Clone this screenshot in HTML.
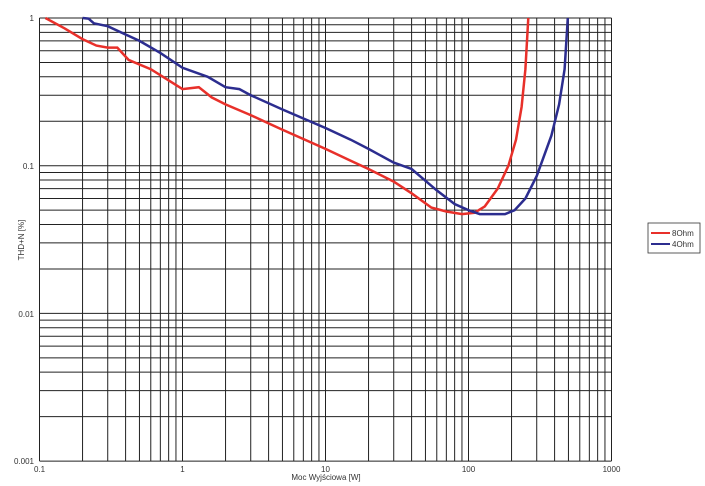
<!DOCTYPE html>
<html><head><meta charset="utf-8"><style>
html,body{margin:0;padding:0;background:#fff;width:705px;height:486px;overflow:hidden}
svg{display:block}
text{font-family:"Liberation Sans",sans-serif;fill:#333}
</style></head><body>
<svg id="s" width="705" height="486" viewBox="0 0 705 486">
<g id="grid" stroke="#222" stroke-width="1"></g>
<g font-size="8">
<text x="34" y="21" text-anchor="end">1</text>
<text x="34" y="169" text-anchor="end">0.1</text>
<text x="34" y="317" text-anchor="end">0.01</text>
<text x="34" y="464" text-anchor="end">0.001</text>
<text x="39.5" y="472" text-anchor="middle">0.1</text>
<text x="182.5" y="472" text-anchor="middle">1</text>
<text x="325.5" y="472" text-anchor="middle">10</text>
<text x="468.5" y="472" text-anchor="middle">100</text>
<text x="611.5" y="472" text-anchor="middle">1000</text>
<text x="326" y="480" text-anchor="middle">Moc Wyjściowa [W]</text>
<text transform="translate(24,240) rotate(-90)" text-anchor="middle">THD+N [%]</text>
</g>
<path id="red" fill="none" stroke="#e8302a" stroke-width="2.5"/>
<path id="blue" fill="none" stroke="#2c2d8f" stroke-width="2.5"/>
<rect x="648" y="223" width="52" height="30" fill="#fff" stroke="#333" stroke-width="0.8"/>
<line x1="651" y1="233" x2="670" y2="233" stroke="#e8302a" stroke-width="2"/>
<line x1="651" y1="244" x2="670" y2="244" stroke="#2c2d8f" stroke-width="2"/>
<text x="672" y="236" font-size="8">8Ohm</text>
<text x="672" y="247" font-size="8">4Ohm</text>
</svg>
<script>
var X0=39.5,DX=143,Y0=18,DY=147.7;
function px(v){return X0+(Math.log10(v)+1)*DX}
function py(v){return Y0-Math.log10(v)*DY}
var g=document.getElementById('grid'),h='';
for(var d=-1;d<3;d++)for(var k=1;k<10;k++){var x=px(k*Math.pow(10,d));h+='<line x1="'+x+'" y1="18" x2="'+x+'" y2="461"/>';}
h+='<line x1="'+px(1000)+'" y1="18" x2="'+px(1000)+'" y2="461"/>';
for(var d=-3;d<0;d++)for(var k=1;k<10;k++){var y=py(k*Math.pow(10,d));h+='<line x1="39.5" y1="'+y+'" x2="611.5" y2="'+y+'"/>';}
h+='<line x1="39.5" y1="18" x2="611.5" y2="18"/>';
g.innerHTML=h;
function path(pts){return pts.map(function(p,i){return (i?'L':'M')+px(p[0]).toFixed(1)+' '+py(p[1]).toFixed(1)}).join(' ')}
var red=[[0.11,1],[0.15,0.85],[0.2,0.72],[0.25,0.65],[0.3,0.63],[0.35,0.63],[0.42,0.52],[0.6,0.45],[1,0.33],[1.3,0.34],[1.6,0.29],[2,0.26],[3,0.22],[5,0.175],[10,0.13],[15,0.108],[20,0.095],[30,0.078],[40,0.065],[55,0.052],[70,0.049],[90,0.047],[110,0.048],[130,0.053],[160,0.07],[190,0.1],[215,0.15],[235,0.25],[250,0.45],[262,1]];
var blue=[[0.2,1],[0.22,0.99],[0.24,0.92],[0.3,0.88],[0.5,0.7],[0.7,0.58],[1,0.46],[1.5,0.4],[2,0.34],[2.5,0.33],[3,0.3],[5,0.24],[10,0.18],[15,0.15],[20,0.13],[30,0.105],[40,0.095],[60,0.068],[80,0.055],[100,0.05],[120,0.047],[180,0.047],[210,0.05],[250,0.06],[300,0.085],[380,0.16],[430,0.26],[470,0.45],[495,1]];
document.getElementById('red').setAttribute('d',path(red));
document.getElementById('blue').setAttribute('d',path(blue));
</script>
</body></html>
